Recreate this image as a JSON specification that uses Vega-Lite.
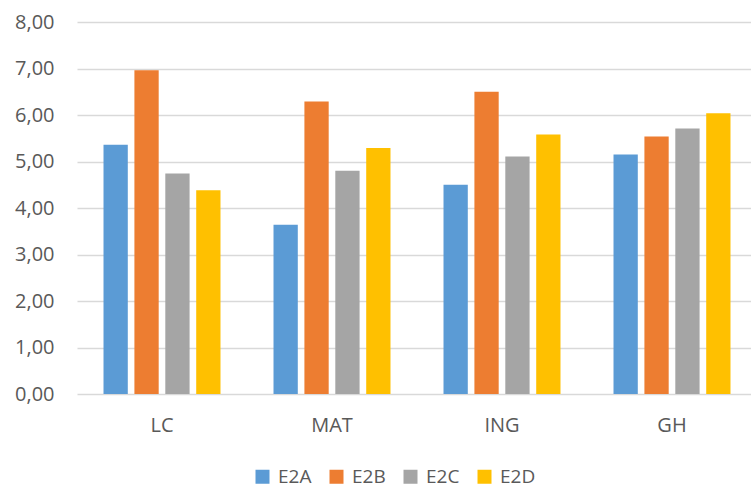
{
  "$schema": "https://vega.github.io/schema/vega-lite/v6.json",
  "width": 674,
  "height": 372,
  "autosize": {"type": "none"},
  "padding": {"top": 22, "left": 77, "right": 0, "bottom": 93},
  "background": "white",
  "config": {
    "view": {"stroke": null},
    "font": "Open Sans",
    "axis": {"labelFont": "Open Sans", "labelColor": "#595959", "labelFontSize": 20}
  },
  "data": {
    "values": [
      {"cat": "LC", "serie": "E2A", "value": 5.36},
      {"cat": "LC", "serie": "E2B", "value": 6.96},
      {"cat": "LC", "serie": "E2C", "value": 4.74},
      {"cat": "LC", "serie": "E2D", "value": 4.38},
      {"cat": "MAT", "serie": "E2A", "value": 3.64},
      {"cat": "MAT", "serie": "E2B", "value": 6.29},
      {"cat": "MAT", "serie": "E2C", "value": 4.80},
      {"cat": "MAT", "serie": "E2D", "value": 5.29},
      {"cat": "ING", "serie": "E2A", "value": 4.50},
      {"cat": "ING", "serie": "E2B", "value": 6.50},
      {"cat": "ING", "serie": "E2C", "value": 5.11},
      {"cat": "ING", "serie": "E2D", "value": 5.58},
      {"cat": "GH", "serie": "E2A", "value": 5.15},
      {"cat": "GH", "serie": "E2B", "value": 5.54},
      {"cat": "GH", "serie": "E2C", "value": 5.71},
      {"cat": "GH", "serie": "E2D", "value": 6.04}
    ]
  },
  "mark": {"type": "bar"},
  "encoding": {
    "x": {
      "field": "cat",
      "type": "nominal",
      "sort": ["LC", "MAT", "ING", "GH"],
      "scale": {"range": [0, 680], "paddingInner": 0.273, "paddingOuter": 0.1365},
      "axis": {
        "title": null,
        "labelAngle": 0,
        "domain": false,
        "ticks": false,
        "tickSize": 0,
        "labelPadding": 21,
        "grid": false
      }
    },
    "xOffset": {
      "field": "serie",
      "type": "nominal",
      "sort": ["E2A", "E2B", "E2C", "E2D"],
      "scale": {"paddingInner": 0.214, "paddingOuter": 0.107}
    },
    "y": {
      "field": "value",
      "type": "quantitative",
      "scale": {"domain": [0, 8], "nice": false, "zero": true},
      "axis": {
        "title": null,
        "values": [0, 1, 2, 3, 4, 5, 6, 7, 8],
        "labelExpr": "replace(format(datum.value, '.2f'), '.', ',')",
        "domain": false,
        "ticks": false,
        "tickSize": 0,
        "labelPadding": 23,
        "grid": true,
        "gridColor": "#D9D9D9",
        "gridWidth": 1.3
      }
    },
    "color": {
      "field": "serie",
      "type": "nominal",
      "sort": ["E2A", "E2B", "E2C", "E2D"],
      "scale": {"domain": ["E2A", "E2B", "E2C", "E2D"], "range": ["#5B9BD5", "#ED7D31", "#A5A5A5", "#FFC000"]},
      "legend": {
        "title": null,
        "orient": "none",
        "direction": "horizontal",
        "legendX": 176,
        "legendY": 445,
        "padding": 0,
        "symbolType": "square",
        "symbolSize": 196,
        "symbolStrokeWidth": 0,
        "labelFont": "Open Sans",
        "labelFontSize": 19,
        "labelColor": "#595959",
        "labelOffset": 6,
        "labelLimit": 300,
        "columnPadding": 15
      }
    }
  }
}
